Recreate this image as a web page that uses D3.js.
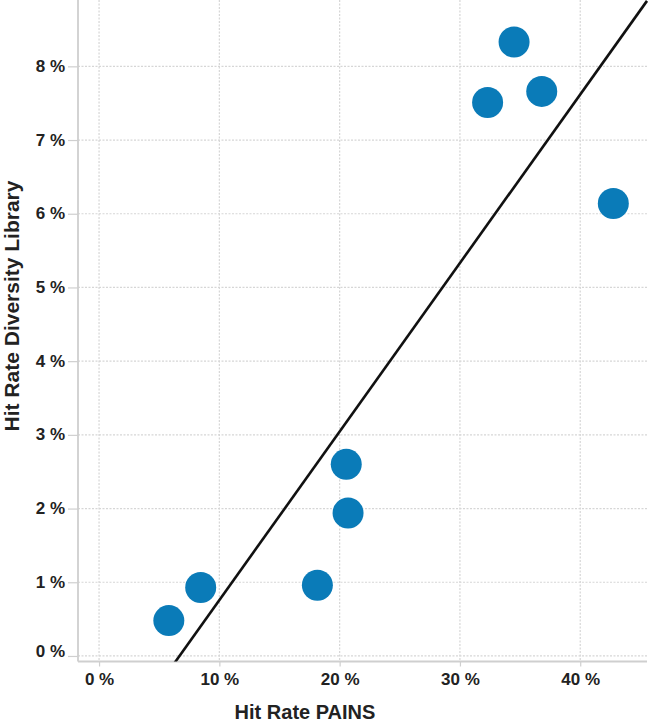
<!DOCTYPE html>
<html>
<head>
<meta charset="utf-8">
<script src="https://cdn.jsdelivr.net/npm/d3@7"></script>
<style>
  html, body { margin: 0; padding: 0; background: #fff; }
  svg { display: block; }
  text { font-family: "Liberation Sans", Arial, sans-serif; }
</style>
</head>
<body>
<svg id="chart" width="650" height="723"></svg>
<script>
// Data (percent values)
const hitRatePAINS     = [34.5, 32.3, 36.8, 42.75, 5.8, 8.45, 18.15, 20.55, 20.7];
const hitRateDiversity = [8.33, 7.51, 7.66, 6.14, 0.48, 0.93, 0.96, 2.60, 1.94];
const xTicks = [0, 10, 20, 30, 40];
const yTicks = [0, 1, 2, 3, 4, 5, 6, 7, 8];
const xTitle = "Hit Rate PAINS";
const yTitle = "Hit Rate Diversity Library";

const svg = d3.select("#chart");
const mLeft = 78, mRight = 647, mTop = 0, mBottom = 661.5;

const x = d3.scaleLinear().domain([-1.75, 45.55]).range([mLeft, mRight]);
const y = d3.scaleLinear().domain([-0.075, 8.9]).range([mBottom, mTop]);

const gridColor = "#d6d6d6";
const axisColor = "#cfcfcf";
const textColor = "#222";

// Vertical gridlines
svg.append("g").selectAll("line").data(xTicks).join("line")
  .attr("x1", d => x(d)).attr("x2", d => x(d))
  .attr("y1", mTop).attr("y2", mBottom)
  .attr("stroke", gridColor).attr("stroke-width", 1.2)
  .attr("stroke-dasharray", "2,1.5");

// Horizontal gridlines
svg.append("g").selectAll("line").data(yTicks).join("line")
  .attr("x1", mLeft).attr("x2", mRight)
  .attr("y1", d => y(d)).attr("y2", d => y(d))
  .attr("stroke", gridColor).attr("stroke-width", 1.2)
  .attr("stroke-dasharray", "2,1.5");

// Axes
const xAxis = d3.axisBottom(x).tickValues(xTicks).tickSize(5).tickFormat(d => d + " %");
const gx = svg.append("g").attr("transform", `translate(0,${mBottom})`).call(xAxis);
gx.select(".domain").attr("stroke", axisColor).attr("stroke-width", 1.8)
  .attr("d", `M${mLeft},0H${mRight}`);
gx.selectAll(".tick line").attr("stroke", axisColor).attr("stroke-width", 1.2);
gx.selectAll(".tick text")
  .attr("y", 11).attr("dy", "0.71em")
  .style("font-family", "'Liberation Sans', Arial, sans-serif")
  .style("font-size", "17px").style("font-weight", "bold").attr("fill", textColor);

const yAxis = d3.axisLeft(y).tickValues(yTicks).tickSize(10).tickFormat(d => d + " %");
const gy = svg.append("g").attr("transform", `translate(${mLeft},0)`).call(yAxis);
gy.select(".domain").attr("stroke", axisColor).attr("stroke-width", 1.8)
  .attr("d", `M0,${mTop}V${mBottom}`);
gy.selectAll(".tick line").attr("stroke", axisColor).attr("stroke-width", 1.2);
gy.selectAll(".tick text")
  .attr("x", -13).attr("dy", "0.3em")
  .style("font-family", "'Liberation Sans', Arial, sans-serif")
  .style("font-size", "17px").style("font-weight", "bold").attr("fill", textColor);
gy.selectAll(".tick text").filter(d => d === 0).attr("dy", "0.05em");

// Regression line (ordinary least squares on the points)
const n = hitRatePAINS.length;
const mx = d3.mean(hitRatePAINS), my = d3.mean(hitRateDiversity);
let sxy = 0, sxx = 0;
for (let i = 0; i < n; i++) {
  sxy += (hitRatePAINS[i] - mx) * (hitRateDiversity[i] - my);
  sxx += (hitRatePAINS[i] - mx) ** 2;
}
const slope = sxy / sxx, intercept = my - slope * mx;
const xd = x.domain();

svg.append("clipPath").attr("id", "plotclip")
  .append("rect").attr("x", mLeft).attr("y", mTop)
  .attr("width", mRight - mLeft + 2).attr("height", mBottom - mTop);

svg.append("line")
  .attr("clip-path", "url(#plotclip)")
  .attr("x1", x(xd[0])).attr("y1", y(slope * xd[0] + intercept))
  .attr("x2", x(xd[1])).attr("y2", y(slope * xd[1] + intercept))
  .attr("stroke", "#111").attr("stroke-width", 2.6);

// Points
const pts = hitRatePAINS.map((v, i) => ({ x: v, y: hitRateDiversity[i] }));
svg.append("g").selectAll("circle").data(pts).join("circle")
  .attr("cx", d => x(d.x)).attr("cy", d => y(d.y)).attr("r", 15.5)
  .attr("fill", "#0a7bb8");

// Titles
svg.append("text")
  .attr("x", 305).attr("y", 719)
  .attr("text-anchor", "middle")
  .style("font-size", "20px").style("font-weight", "bold")
  .attr("fill", textColor)
  .text(xTitle);

svg.append("text")
  .attr("transform", "translate(19,306) rotate(-90)")
  .attr("text-anchor", "middle")
  .style("font-size", "21px").style("font-weight", "bold")
  .attr("fill", textColor)
  .text(yTitle);
</script>
</body>
</html>
